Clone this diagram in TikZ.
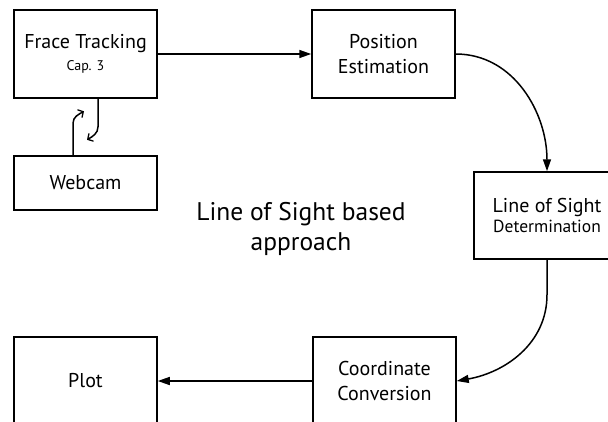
\documentclass[tikz,border=0pt]{standalone}
\usepackage{fontspec}
\setmainfont{PT Sans}
\usetikzlibrary{arrows.meta}
\tikzset{
  box/.style={draw, line width=1.5pt, rectangle, minimum width=143pt, minimum height=88pt,
    inner sep=0pt, align=center, font=\fontsize{20}{25}\selectfont},
  flow/.style={line width=1.5pt, -{Triangle[length=12pt,width=8pt]}},
  hook/.style={line width=1.5pt, -{Straight Barb[length=4pt,width=9pt,line width=1.3pt]}},
}
\begin{document}
\begin{tikzpicture}[x=1pt,y=-1pt]
  \useasboundingbox (0,0) rectangle (608,421);
  \clip (0,0) rectangle (608,421);

  % processing blocks
  \node[box] (ft) at (85.5,54) {Frace Tracking\\[-3pt]{\fontsize{14}{16}\selectfont Cap. 3}};
  \node[box] (pe) at (383.5,54) {Position\\Estimation};
  \node[box, minimum width=152pt, minimum height=87pt] (los) at (550,215.5)
    {\hspace*{-6pt}Line of Sight\\[-5pt]\hspace*{-6pt}{\fontsize{17.5}{20}\selectfont Determination}};
  \node[box, minimum height=54pt] (wc) at (85.5,183) {Webcam};
  \node[box] (plot) at (85.5,381) {Plot};
  \node[box] (cc) at (384.5,381) {Coordinate\\Conversion};

  % caption in the middle
  \node[align=center, font=\fontsize{25.5}{30}\selectfont] (title) at (301,229)
    {Line of Sight based\\approach};

  % main flow
  \draw[flow] (ft.east) -- (pe.west);
  \draw[flow] (pe.east) to[out=0,in=90] ([xshift=-3pt]los.north);
  \draw[flow] ([xshift=-3pt]los.south) -- ++(0,35) to[out=-90,in=10] (cc.east);
  \draw[flow] (cc.west) -- (plot.east);

  % two-way link between webcam and tracker
  \draw[hook] ([xshift=-12.5pt]wc.north) -- ++(0,-32) to[out=90,in=210] ++(11,-12);
  \draw[hook] ([xshift=12.5pt]ft.south) -- ++(0,28) to[out=-90,in=30] ++(-11,13);
\end{tikzpicture}
\end{document}
